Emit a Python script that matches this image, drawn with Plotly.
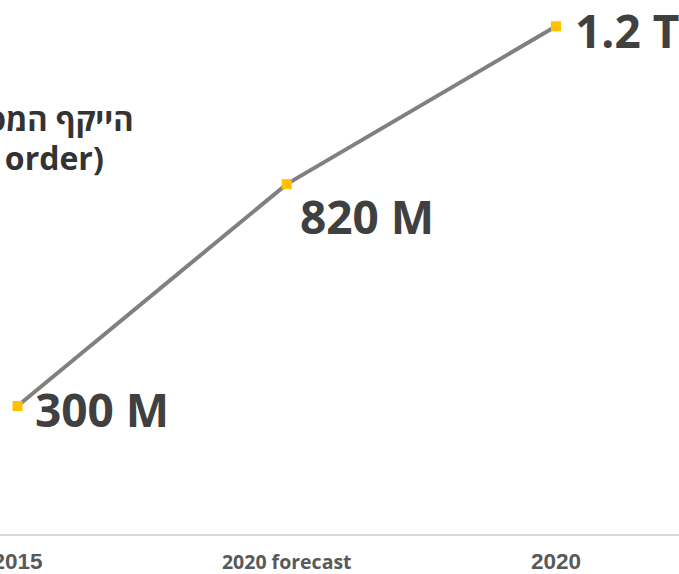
import plotly.graph_objects as go

categories = ["2015", "2020 forecast", "2020"]
values = [300, 820, 1190]
value_labels = ["300 M", "820 M", "1.2 T"]
title_lines = ["הייקף המסחר", "(per order)"]

# per-label text offsets (pixels) relative to the marker
label_shift = [(15, -3), (11, -32), (17, -4)]

x_idx = list(range(len(categories)))

fig = go.Figure()
fig.add_trace(go.Scatter(
    x=x_idx, y=values, mode="lines+markers",
    line=dict(color="#808080", width=4),
    marker=dict(symbol="square", size=10, color="#FFC000"),
    cliponaxis=False, hoverinfo="skip",
))

for xi, v, lab, (dx, dy) in zip(x_idx, values, value_labels, label_shift):
    fig.add_annotation(
        x=xi, y=v, xref="x", yref="y", text="<b>%s</b>" % lab, showarrow=False,
        xanchor="left", yanchor="middle", xshift=dx, yshift=dy,
        font=dict(family="Open Sans", size=46, color="#404040"),
    )

def tick_style(t):
    if "forecast" in t:
        return "<span style='font-family:Open Sans;font-size:19.5px'><b>%s</b></span>" % t
    return "<span style='font-family:Liberation Sans;font-size:22.5px'><b>%s</b></span>" % t

fig.add_annotation(
    x=136 / 679, y=1 - 128 / 574, xref="paper", yref="paper", text="<b>%s</b>" % title_lines[0],
    showarrow=False, xanchor="right", yanchor="middle",
    font=dict(family="Open Sans", size=31, color="#333333"),
)
fig.add_annotation(
    x=106 / 679, y=1 - 169 / 574, xref="paper", yref="paper", text="<b>%s</b>" % title_lines[1],
    showarrow=False, xanchor="right", yanchor="middle",
    font=dict(family="Open Sans", size=32, color="#333333"),
)

fig.update_layout(
    width=679, height=574,
    margin=dict(l=0, r=0, t=0, b=40),
    paper_bgcolor="white", plot_bgcolor="white",
    showlegend=False,
    xaxis=dict(
        range=[-0.065, 2.4568], tickmode="array", tickvals=x_idx,
        ticktext=[tick_style(c) for c in categories],
        showgrid=False, zeroline=False, showline=True, linecolor="#d9d9d9", linewidth=1.5,
        ticks="", ticklabelstandoff=12, ticklabeloverflow="allow",
        tickfont=dict(color="#595959", size=18, family="Open Sans"),
        automargin=False, fixedrange=True,
    ),
    yaxis=dict(range=[0, 1251.6], visible=False, fixedrange=True),
)

fig.write_html("out.html", config={"displayModeBar": False},
               post_script="document.body.style.margin='0';")
